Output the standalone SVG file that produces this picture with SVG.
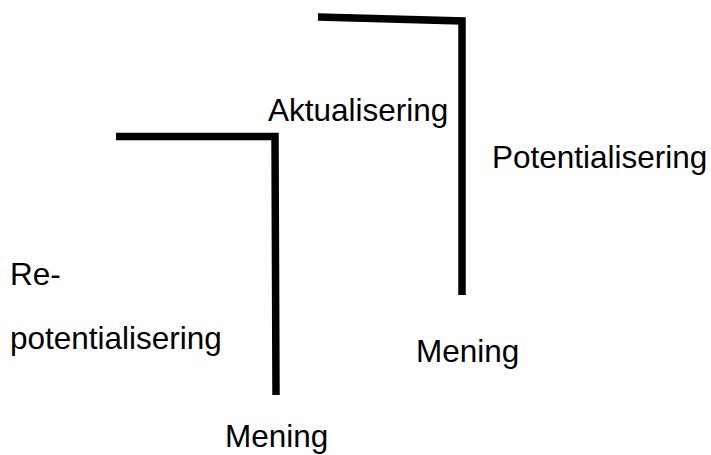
<svg xmlns="http://www.w3.org/2000/svg" width="711" height="455" viewBox="0 0 711 455">
  <style>
    .bar { fill: none; stroke: #000; stroke-width: 7.5; stroke-linejoin: miter; stroke-linecap: butt; }
    .lbl { font-family: "Liberation Sans", Arial, sans-serif; font-size: 31.5px; fill: #000; }
  </style>
  <rect width="711" height="455" fill="#fff"/>
  <g id="connectors">
    <path id="bracket-upper" class="bar" d="M318,17 L462,21 L462,295"/>
    <path id="bracket-lower" class="bar" d="M116,136.5 L275,136.5 L276,395"/>
  </g>
  <g id="node-aktualisering"><text class="lbl" x="268" y="121">Aktualisering</text></g>
  <g id="node-potentialisering"><text class="lbl" x="492" y="168">Potentialisering</text></g>
  <g id="node-repotentialisering">
    <text class="lbl" x="10" y="285">Re-</text>
    <text class="lbl" x="10" y="349">potentialisering</text>
  </g>
  <g id="node-mening-right"><text class="lbl" x="416" y="362">Mening</text></g>
  <g id="node-mening-left"><text class="lbl" x="225" y="447">Mening</text></g>
</svg>
